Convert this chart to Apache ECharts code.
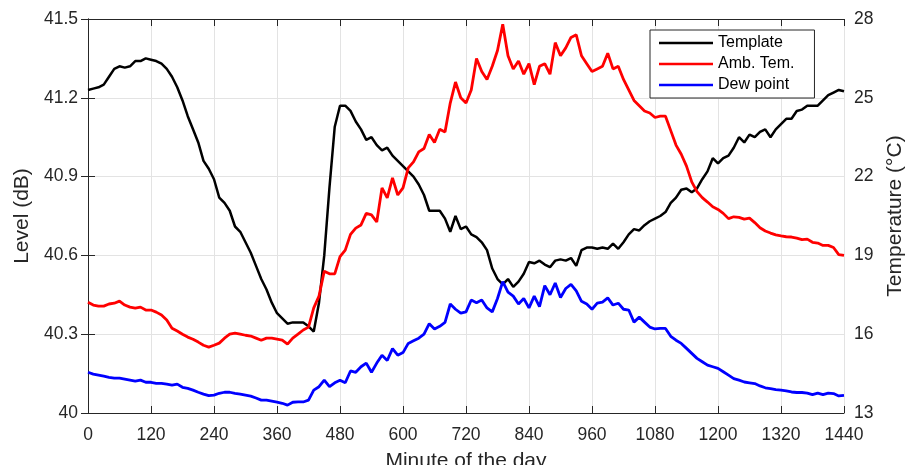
<!DOCTYPE html>
<html>
<head>
<meta charset="utf-8">
<script src="https://cdn.jsdelivr.net/npm/echarts@6/dist/echarts.min.js"></script>
<style>
  html, body { margin: 0; padding: 0; background: #fff; }
  #chart { width: 907px; height: 465px; }
</style>
</head>
<body>
<div id="chart"></div>
<script>
// Sampling grid: one reading every 10 minutes over the day
const minutes = Array.from({ length: 145 }, (_, i) => i * 10);

// Template level (dB), left axis
const template = [
  41.23, 41.235, 41.24, 41.25, 41.28, 41.31, 41.32, 41.315, 41.32, 41.34,
  41.34, 41.35, 41.345, 41.34, 41.33, 41.31, 41.28, 41.24, 41.19, 41.13,
  41.08, 41.03, 40.96, 40.93, 40.89, 40.82, 40.80, 40.77, 40.71, 40.69,
  40.65, 40.61, 40.56, 40.51, 40.47, 40.42, 40.38, 40.36, 40.34, 40.345,
  40.345, 40.345, 40.33, 40.31, 40.42, 40.60, 40.86, 41.09, 41.17, 41.17,
  41.15, 41.11, 41.08, 41.04, 41.05, 41.02, 41.00, 41.01, 40.98, 40.96,
  40.94, 40.92, 40.90, 40.87, 40.83, 40.77, 40.77, 40.77, 40.74, 40.69,
  40.75, 40.70, 40.71, 40.68, 40.67, 40.65, 40.62, 40.55, 40.51, 40.49,
  40.51, 40.48, 40.50, 40.53, 40.575, 40.57, 40.58, 40.565, 40.555, 40.58,
  40.585, 40.58, 40.59, 40.56, 40.62, 40.63, 40.63, 40.625, 40.63, 40.625,
  40.645, 40.625, 40.65, 40.68, 40.70, 40.695, 40.715, 40.73, 40.74, 40.75,
  40.765, 40.80, 40.82, 40.85, 40.855, 40.84, 40.855, 40.89, 40.92, 40.97,
  40.95, 40.97, 40.98, 41.01, 41.05, 41.03, 41.06, 41.05, 41.07, 41.08,
  41.05, 41.08, 41.10, 41.12, 41.12, 41.15, 41.155, 41.17, 41.17, 41.17,
  41.19, 41.21, 41.22, 41.23, 41.225
];

// Ambient temperature (°C), right axis
const ambTemp = [
  17.22, 17.11, 17.07, 17.07, 17.15, 17.18, 17.26, 17.11, 17.03, 16.99,
  17.03, 16.92, 16.92, 16.84, 16.73, 16.54, 16.23, 16.12, 16.00, 15.89,
  15.81, 15.70, 15.58, 15.51, 15.58, 15.66, 15.85, 16.00, 16.04, 16.00,
  15.96, 15.93, 15.85, 15.77, 15.85, 15.85, 15.81, 15.77, 15.62, 15.85,
  16.00, 16.16, 16.27, 17.00, 17.45, 18.40, 18.30, 18.30, 18.95, 19.20,
  19.80, 20.04, 20.16, 20.60, 20.54, 20.27, 21.57, 21.19, 21.95, 21.30,
  21.57, 22.33, 22.56, 22.94, 23.07, 23.60, 23.30, 23.80, 23.70, 24.80,
  25.60, 25.00, 24.80, 25.30, 26.50, 26.00, 25.70, 26.20, 26.80, 27.80,
  26.60, 26.10, 26.40, 25.90, 26.30, 25.50, 26.20, 26.30, 25.90, 27.10,
  26.60, 26.90, 27.30, 27.40, 26.60, 26.30, 26.00, 26.10, 26.20, 26.70,
  26.10, 26.20, 25.70, 25.30, 24.90, 24.70, 24.50, 24.42, 24.25, 24.30,
  24.30, 23.75, 23.20, 22.85, 22.40, 21.80, 21.43, 21.20, 21.03, 20.85,
  20.75, 20.60, 20.40, 20.47, 20.45, 20.38, 20.42, 20.25, 20.05, 19.93,
  19.85, 19.78, 19.74, 19.71, 19.70, 19.66, 19.60, 19.62, 19.50, 19.47,
  19.38, 19.38, 19.30, 19.03, 19.00
];

// Dew point (°C), right axis
const dewPoint = [
  14.55, 14.48, 14.44, 14.40, 14.36, 14.33, 14.33, 14.29, 14.25, 14.21,
  14.25, 14.17, 14.17, 14.13, 14.13, 14.10, 14.06, 14.10, 13.98, 13.94,
  13.87, 13.79, 13.72, 13.66, 13.68, 13.75, 13.79, 13.79, 13.75, 13.72,
  13.68, 13.64, 13.57, 13.49, 13.49, 13.45, 13.41, 13.37, 13.30, 13.41,
  13.42, 13.42, 13.49, 13.87, 14.00, 14.25, 14.00, 14.15, 14.25, 14.15,
  14.60, 14.55, 14.76, 14.90, 14.55, 14.90, 15.20, 15.00, 15.45, 15.20,
  15.30, 15.65, 15.75, 15.85, 16.00, 16.40, 16.20, 16.30, 16.45, 17.15,
  16.95, 16.80, 16.85, 17.30, 17.20, 17.30, 17.00, 16.85, 17.36, 18.00,
  17.60, 17.45, 17.15, 17.36, 17.00, 17.45, 17.05, 17.85, 17.50, 17.95,
  17.40, 17.74, 17.90, 17.65, 17.25, 17.15, 16.95, 17.18, 17.22, 17.38,
  17.11, 17.18, 16.95, 16.92, 16.46, 16.65, 16.46, 16.27, 16.20, 16.22,
  16.22, 15.92, 15.77, 15.65, 15.46, 15.27, 15.08, 14.95, 14.82, 14.76,
  14.70, 14.57, 14.44, 14.31, 14.25, 14.18, 14.15, 14.12, 14.03, 13.96,
  13.93, 13.89, 13.87, 13.84, 13.80, 13.78, 13.78, 13.76, 13.70, 13.76,
  13.70, 13.76, 13.74, 13.65, 13.67
];

const seriesNames = ['Template', 'Amb. Tem.', 'Dew point'];

const FONT = 'Liberation Sans, Arial, Helvetica, sans-serif';
const INK = '#262626';
const GRID = '#e3e3e3';
// Plain horizontal stroke used as the legend key
const LINE_KEY = 'path://M0,0H54V2.6H0Z';

const pairs = (vals) => minutes.map((m, i) => [m, vals[i]]);

const chart = echarts.init(document.getElementById('chart'), null, { renderer: 'canvas' });

const xCommon = {
  type: 'value', min: 0, max: 1440, interval: 120,
  axisLine: { show: true, lineStyle: { color: INK, width: 1 } },
  axisTick: { show: true, inside: true, length: 7, lineStyle: { color: INK } },
};

chart.setOption({
  animation: false,
  backgroundColor: '#fff',
  textStyle: { fontFamily: FONT },
  grid: { left: 88, right: 63, top: 19, bottom: 52, containLabel: false, outerBoundsMode: 'none' },
  legend: {
    orient: 'vertical',
    left: 650, top: 30,
    backgroundColor: '#fff',
    borderColor: INK, borderWidth: 1, borderRadius: 0,
    padding: [5, 20, 5, 9],
    itemWidth: 54, itemHeight: 16, itemGap: 5,
    symbolKeepAspect: true,
    textStyle: { fontFamily: FONT, fontSize: 16, color: '#000' },
    data: seriesNames.map((n) => ({ name: n, icon: LINE_KEY }))
  },
  xAxis: [
    Object.assign({}, xCommon, {
      position: 'bottom',
      name: 'Minute of the day', nameLocation: 'middle', nameGap: 38,
      nameTextStyle: { fontFamily: FONT, fontSize: 21, color: INK },
      axisLabel: {
        show: true, margin: 13, fontFamily: FONT, fontSize: 17.5, color: INK,
        formatter: (v) => String(v)
      },
      splitLine: { show: true, lineStyle: { color: GRID, width: 1 } }
    }),
    Object.assign({}, xCommon, {
      position: 'top',
      axisLabel: { show: false },
      splitLine: { show: false }
    })
  ],
  yAxis: [
    {
      type: 'value', position: 'left', min: 40, max: 41.5, interval: 0.3,
      name: 'Level (dB)', nameLocation: 'middle', nameGap: 52, nameRotate: 90,
      nameTextStyle: { fontFamily: FONT, fontSize: 21, color: INK },
      axisLine: { show: true, lineStyle: { color: INK } },
      axisTick: { show: true, inside: true, length: 7, lineStyle: { color: INK } },
      axisLabel: {
        margin: 10, fontFamily: FONT, fontSize: 17.5, color: INK,
        formatter: (v) => String(Math.round(v * 10) / 10)
      },
      splitLine: { show: true, lineStyle: { color: GRID, width: 1 } }
    },
    {
      type: 'value', position: 'right', min: 13, max: 28, interval: 3,
      name: 'Temperature (°C)', nameLocation: 'middle', nameGap: 40, nameRotate: 90,
      nameTextStyle: { fontFamily: FONT, fontSize: 21, color: INK },
      axisLine: { show: true, lineStyle: { color: INK } },
      axisTick: { show: true, inside: true, length: 7, lineStyle: { color: INK } },
      axisLabel: { margin: 10, fontFamily: FONT, fontSize: 17.5, color: INK },
      splitLine: { show: false }
    }
  ],
  series: [
    {
      name: seriesNames[0], type: 'line', xAxisIndex: 0, yAxisIndex: 0,
      data: pairs(template), symbol: 'none', smooth: false,
      lineStyle: { color: '#000000', width: 2.5 }, itemStyle: { color: '#000000' }
    },
    {
      name: seriesNames[1], type: 'line', xAxisIndex: 0, yAxisIndex: 1,
      data: pairs(ambTemp), symbol: 'none', smooth: false,
      lineStyle: { color: '#ff0000', width: 2.8 }, itemStyle: { color: '#ff0000' }
    },
    {
      name: seriesNames[2], type: 'line', xAxisIndex: 0, yAxisIndex: 1,
      data: pairs(dewPoint), symbol: 'none', smooth: false,
      lineStyle: { color: '#0000ff', width: 2.8 }, itemStyle: { color: '#0000ff' }
    }
  ]
});
</script>
</body>
</html>
